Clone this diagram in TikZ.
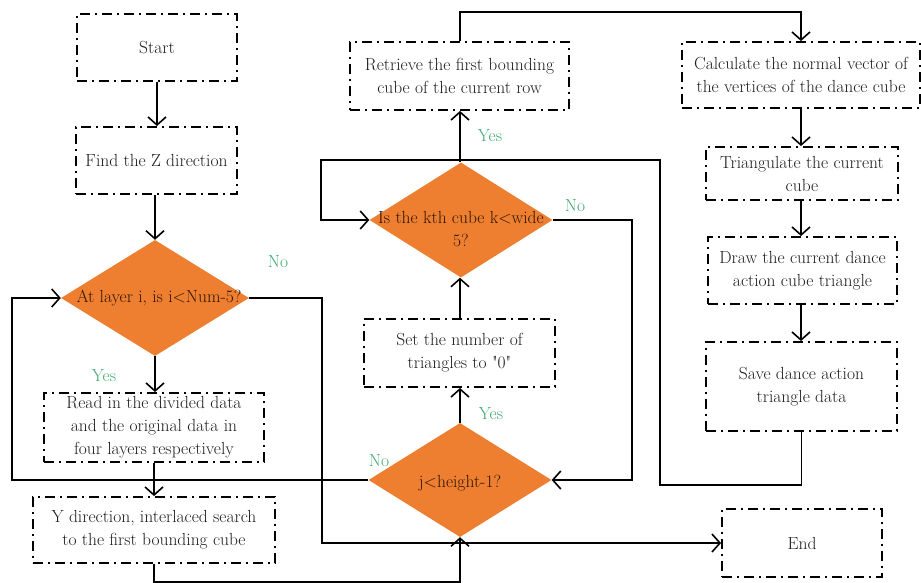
\documentclass[tikz,border=0pt]{standalone}
\usetikzlibrary{shapes.geometric,arrows.meta}
\definecolor{dorange}{HTML}{EF7F30}
\definecolor{lgreen}{HTML}{3DAA6E}
\definecolor{btext}{HTML}{1C1C1C}
\definecolor{dtextc}{HTML}{2E1606}
\begin{document}
\begin{tikzpicture}[x=1pt,y=-1pt,
  every node/.style={font=\fontsize{17.5}{23}\selectfont},
  procbox/.style={draw, line width=1.9pt, dash pattern=on 10pt off 5pt on 2pt off 5pt,
    align=center, inner sep=0pt, text=btext},
  decbox/.style={diamond, fill=dorange, draw=none, inner sep=0pt},
  dectext/.style={align=center, inner sep=0pt, text=dtextc},
  lab/.style={text=lgreen, inner sep=0pt},
  conn/.style={line width=1.6pt, line join=miter},
  arr/.style={conn, -{Straight Barb[length=8pt,width=18pt,line width=1.6pt]}}
]
\useasboundingbox (0,0) rectangle (921,583);

% boxes
\node[procbox, minimum width=160, minimum height=67] (start) at (157,47.5) {Start};
\node[procbox, minimum width=161, minimum height=67] (find) at (156.5,160.5) {Find the Z direction};
\node[procbox, minimum width=220, minimum height=69] (read) at (154,427.5) {Read in the divided data\\and the original data in\\four layers respectively};
\node[procbox, minimum width=242, minimum height=66] (ydir) at (154,530) {Y direction, interlaced search\\to the first bounding cube};
\node[procbox, minimum width=191, minimum height=68] (setb) at (459.5,353) {Set the number of\\triangles to \textquotedbl 0\textquotedbl};
\node[procbox, minimum width=219, minimum height=68] (ret) at (459.5,76) {Retrieve the first bounding\\cube of the current row};
\node[procbox, minimum width=238, minimum height=66] (calc) at (801,75) {Calculate the normal vector of\\the vertices of the dance cube};
\node[procbox, minimum width=192, minimum height=53] (tri) at (802,173.5) {Triangulate the current\\cube};
\node[procbox, minimum width=189, minimum height=67] (drw) at (802.5,270.5) {Draw the current dance\\action cube triangle};
\node[procbox, minimum width=191, minimum height=89] (save) at (801.5,386.5) {Save dance action\\triangle data};
\node[procbox, minimum width=160, minimum height=68] (endb) at (802,543) {End};

% decisions
\node[decbox, minimum width=188, minimum height=116] (d1) at (155,298) {};
\node[dectext] (d1t) at (159,298) {At layer i, is i\textless Num-5?};
\node[decbox, minimum width=183, minimum height=115] (d2) at (461,220) {};
\node[dectext] (d2t) at (461,229) {Is the kth cube k\textless wide\\5?};
\node[decbox, minimum width=183, minimum height=114] (d3) at (460,480) {};
\node[dectext] (d3t) at (460,483) {j\textless height-1?};

% labels
\node[lab] (l1) at (278,262) {No};
\node[lab] (l2) at (104,376) {Yes};
\node[lab] (l3) at (490,136) {Yes};
\node[lab] (l4) at (575,206) {No};
\node[lab] (l5) at (491,414) {Yes};
\node[lab] (l6) at (379,461) {No};

% coordinates
\coordinate (c1) at (154,582);
\coordinate (c2) at (460,12);
\coordinate (c3) at (801.5,485);
\coordinate (c4) at (660,485);
\coordinate (c5) at (660,160);
\coordinate (c6) at (321,160);
\coordinate (c7) at (632,220);
\coordinate (c8) at (12,480);
\coordinate (c9) at (322,298);

% connectors
\draw[arr] (start.south) -- (start.south |- find.north);
\draw[arr] (find.south -| d1.north) -- (d1.north);
\draw[arr] (d1.south) -- (d1.south |- read.north);
\draw[arr] (read.south) -- (read.south |- ydir.north);
\draw[arr] (ydir.south) -- (c1) -| (d3.south);
\draw[arr] (d3.north) -- (d3.north |- setb.south);
\draw[arr] (setb.north -| d3.north) -- (d3.north |- d2.south);
\draw[arr] (d3.north |- d2.north) -- (d3.north |- ret.south);
\draw[arr] (d3.north |- ret.north) -- (c2) -| (calc.north);
\draw[arr] (calc.south) -- (calc.south |- tri.north);
\draw[arr] (calc.south |- tri.south) -- (calc.south |- drw.north);
\draw[arr] (calc.south |- drw.south) -- (calc.south |- save.north);
\draw[arr] (save.south) -- (c3) -- (c4) -- (c5) -- (c6) |- (d2.west);
\draw[arr] (d2.east) -- (c7) |- (d3.east);
\draw[arr] (d3.west) -- (c8) |- (d1.west);
\draw[arr] (d1.east) -- (c9) |- (endb.west);
\end{tikzpicture}
\end{document}
